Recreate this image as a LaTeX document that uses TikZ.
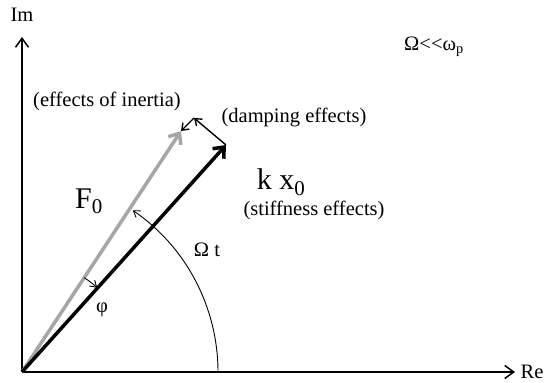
\documentclass[tikz,border=0pt]{standalone}
\usepackage{fontspec}
\setmainfont{Liberation Serif}
\usetikzlibrary{
arrows.meta,
positioning
}
\definecolor{inertiagray}{HTML}{A6A6A6}

\begin{document}
\begin{tikzpicture}[
x=1pt, y=1pt,
axis/.style={line width=1.5pt, -{Straight Barb[length=9pt,width=13pt,line width=1.5pt]}},
vec/.style={line width=3.5pt, -{Straight Barb[length=9pt,width=15pt,line width=3.5pt]}},
small/.style={line width=1.4pt, -{Straight Barb[length=6pt,width=9pt,line width=1.4pt]}},
angle/.style={line width=0.9pt, -{Straight Barb[length=6pt,width=8pt,line width=0.9pt]}},
lbl/.style={font=\fontsize{20.5}{24}\selectfont, inner sep=0pt},
big/.style={font=\fontsize{30}{34}\selectfont, inner sep=0pt}
]
\useasboundingbox (0,0) rectangle (547,383);

% points
\coordinate (O) at (22,11);
\coordinate (imtip) at (22,346);
\coordinate (retip) at (515,11);
\coordinate (kx) at (226,238);
\coordinate (F) at (181,252);
\coordinate (c) at (194,265);

% axes
\draw[axis] (O) -- (imtip);
\draw[axis] (O) -- (retip);
\node[lbl] (im) at (22,368) {Im};
\node[lbl] (re) at (532,11) {Re};

% vectors
\draw[vec, inertiagray] (O) -- (F);
\draw[vec] (O) -- (kx);
\draw[small] (kx) -- (c);
\draw[small] (c) -- (F);

% angles
\draw[angle] (O) ++(196,0) arc[start angle=0, end angle=55.6, radius=196];
\draw[angle] (O) ++(56.6:113) arc[start angle=56.6, end angle=48.3, radius=113];

% labels
\node[lbl] (cond) at (434,336) {Ω<{}<ω\textsubscript{p}};
\node[lbl] (inertia) at (107,282) {(effects of inertia)};
\node[lbl] (damping) at (294,266) {(damping effects)};
\node[big] (kxlbl) at (281,201) {k x\textsubscript{0}};
\node[lbl] (stiff) at (314,173) {(stiffness effects)};
\node[big] (Flbl) at (89,182) {F\textsubscript{0}};
\node[lbl] (omt) at (207,133) {Ω t};
\node[lbl] (phi) at (102,73) {φ};

\end{tikzpicture}
\end{document}
